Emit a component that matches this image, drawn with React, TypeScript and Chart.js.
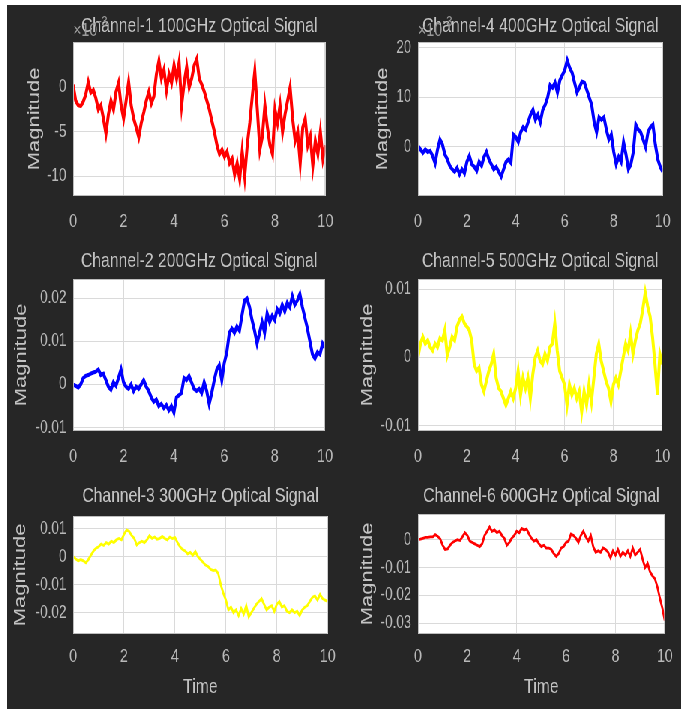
import React, { useEffect, useRef } from "react";
import { Chart, registerables } from "chart.js";

Chart.register(...registerables);

// Time axis: samples every 0.1 s from 0 to 10
const TIME_STEP = 0.1;

// Channel values, in units of 1e-3
const CH1 = [0.3, -1.5, -2.0, -2.1, -1.6, -0.8, 0.6, -0.6, -0.3, -1.2, -2.5, -2.0, -3.5, -5.2, -3.0, -1.5, -2.5, -0.5, 0.5, -2.0, -3.5, -1.5, 0.6, -2.0, -3.5, -4.5, -5.6, -4.0, -2.8, -1.5, -0.5, -1.8, -1.0, 1.5, 3.0, 1.0, 2.0, -0.3, 1.5, 0.5, 2.5, 1.0, 2.8, -2.0, 0.5, 2.3, 0.0, 1.0, 2.5, 3.2, 1.0, 0.3, -0.5, -1.5, -2.5, -3.8, -5.0, -6.5, -7.5, -7.0, -7.8, -7.2, -8.5, -8.0, -9.8, -8.5, -10.3, -7.2, -10.0, -6.5, -4.0, -1.0, 1.8, -2.5, -7.0, -5.5, -2.0, -4.5, -6.5, -7.5, -2.5, -4.0, -2.0, -5.0, -3.0, -1.5, 0.0, -3.5, -6.0, -5.0, -8.5, -4.5, -3.5, -6.5, -5.5, -8.8, -6.0, -7.5, -5.0, -8.0, -6.5];
const CH2 = [0.0, -0.3, -0.7, 0.0, 1.5, 2.0, 2.2, 2.5, 2.8, 3.0, 3.5, 2.2, 2.5, 1.0, -0.5, -1.2, 0.5, -0.3, 1.5, 3.5, 0.5, -0.5, -1.0, 0.0, -1.5, -0.5, -1.0, 0.0, 1.0, -0.5, -1.5, -3.0, -4.0, -3.5, -5.0, -4.5, -5.5, -4.8, -6.0, -5.0, -6.5, -3.0, -2.5, -2.0, 1.5, 1.0, 2.0, 0.5, -1.0, -1.5, -1.0, -2.0, 0.5, -1.5, -4.5, -2.0, 1.0, 3.5, 4.5, 1.0, 5.0, 7.5, 12.0, 13.0, 12.0, 13.5, 12.5, 16.0, 19.5, 20.0, 18.0, 15.0, 12.5, 9.5, 12.0, 14.5, 12.0, 16.5, 14.5, 16.0, 15.0, 17.5, 16.5, 18.5, 17.0, 19.0, 18.0, 20.5, 18.5, 19.5, 21.0, 18.0, 15.5, 13.0, 10.0, 7.0, 6.0, 7.5, 7.0, 9.5, 8.5];
const CH3 = [0.0, -0.8, -1.5, -1.0, -1.5, -2.2, -1.0, 0.5, 2.0, 3.0, 3.5, 4.5, 4.0, 5.0, 4.5, 5.5, 5.0, 6.0, 6.5, 6.0, 8.0, 9.5, 9.0, 7.5, 6.5, 4.2, 5.0, 5.5, 5.0, 6.0, 7.5, 6.5, 7.0, 6.2, 6.5, 7.2, 6.5, 6.0, 7.0, 6.5, 6.8, 5.0, 3.5, 2.5, 2.0, 1.0, 1.5, 0.5, 1.8, 0.0, -1.0, -2.0, -3.0, -3.5, -4.5, -5.0, -4.8, -6.0, -10.0, -13.0, -15.5, -19.0, -18.0, -20.0, -19.0, -21.0, -18.5, -20.5, -17.5, -21.5, -20.0, -18.5, -17.0, -16.0, -15.0, -17.0, -19.0, -18.0, -17.5, -19.5, -17.0, -16.0, -18.0, -17.5, -19.5, -20.0, -19.0, -20.0, -19.5, -21.0, -19.0, -18.0, -17.5, -16.0, -14.5, -14.0, -15.5, -13.5, -15.0, -15.5, -16.0];
const CH4 = [0.2, -0.5, -1.2, -0.5, -1.0, -0.8, -1.8, -3.3, -0.5, 1.5, 0.5, -1.5, -2.5, -3.8, -4.5, -5.0, -4.2, -5.5, -4.5, -5.3, -3.0, -1.8, -3.5, -4.0, -4.8, -3.0, -3.8, -2.0, -1.0, -2.5, -3.5, -4.5, -4.0, -5.0, -6.0, -4.5, -3.0, -2.5, -3.2, 2.5, 2.0, 1.0, 3.0, 4.0, 3.5, 5.0, 6.5, 7.5, 5.5, 6.5, 5.0, 7.5, 8.5, 10.0, 12.5, 12.0, 13.0, 11.0, 13.5, 14.5, 15.5, 17.5, 16.0, 15.0, 13.0, 11.0, 12.0, 13.2, 13.0, 11.5, 10.0, 8.5, 5.0, 3.0, 6.0, 5.5, 6.0, 3.5, 1.5, 2.5, -1.0, -3.5, -2.0, -3.0, 1.0, -1.5, -4.5, -3.5, -1.0, 4.5, 3.5, 3.0, 1.5, 0.0, 3.0, 4.0, 4.5, 0.5, -2.5, -4.0, -5.0];
const CH5 = [0.0, 2.0, 3.0, 2.0, 2.5, 1.5, 1.0, 2.0, 1.5, 2.8, 2.5, 4.0, 0.3, 1.5, 3.0, 2.5, 4.5, 5.5, 6.0, 5.0, 4.5, 4.0, 2.5, -1.0, -2.0, -1.5, -4.0, -5.0, -3.5, -2.0, -1.0, 0.5, -3.0, -4.5, -5.0, -6.0, -7.0, -6.0, -5.0, -6.0, -4.5, -2.0, -5.5, -3.0, -4.5, -3.0, -6.0, -2.5, 0.0, 1.0, -0.5, -1.0, 0.5, -0.5, 1.5, 2.0, 5.0, 1.0, -2.0, -3.0, -4.0, -7.0, -4.0, -5.5, -4.5, -6.0, -5.0, -8.0, -5.0, -7.0, -4.0, -6.5, -3.0, 0.5, 2.0, -0.5, -2.0, -3.5, -4.5, -6.5, -4.0, -3.0, -4.0, -2.0, 0.0, 2.0, 1.0, 3.5, 0.5, 2.5, 4.0, 5.0, 7.0, 9.5, 7.5, 6.0, 3.0, -1.0, -5.5, 0.5, -1.0];
const CH6 = [0.0, 0.2, 0.5, 0.8, 0.8, 1.0, 1.0, 1.8, 1.2, 0.3, -2.0, -3.5, -3.3, -2.0, -1.0, -0.5, 0.0, -0.3, 1.0, 2.5, 1.5, -0.5, -1.0, -1.5, -2.0, -2.5, -1.5, 1.5, 3.0, 4.5, 3.0, 3.5, 2.5, 3.0, 1.5, 0.5, -2.0, -1.0, 0.5, 1.5, 3.0, 2.5, 4.0, 3.5, 3.8, 2.0, 0.5, -0.5, 0.0, -1.5, -2.5, -2.0, -3.0, -3.0, -3.5, -5.0, -6.0, -5.0, -3.0, -2.5, -1.0, -0.5, 2.0, 1.5, 0.5, -1.0, 1.5, 3.0, 1.0, -0.5, 1.5, -2.5, -4.5, -4.0, -4.5, -3.0, -3.5, -4.5, -6.5, -4.0, -5.5, -3.5, -6.0, -4.5, -5.5, -4.0, -6.0, -3.0, -5.5, -4.5, -3.5, -7.0, -10.0, -8.5, -11.5, -13.0, -14.0, -17.0, -21.0, -24.5, -29.0];

// Tick labels / axis ranges
const X_TICK_STEP = 2;
const CH1_TICKS = [-10, -5, 0];
const CH2_TICKS = [-0.01, 0, 0.01, 0.02];
const CH3_TICKS = [-0.02, -0.01, 0, 0.01];
const CH4_TICKS = [0, 10, 20];
const CH5_TICKS = [-0.01, 0, 0.01];
const CH6_TICKS = [-0.03, -0.02, -0.01, 0];

const TITLES = [
  "Channel-1 100GHz Optical Signal",
  "Channel-2 200GHz Optical Signal",
  "Channel-3 300GHz Optical Signal",
  "Channel-4 400GHz Optical Signal",
  "Channel-5 500GHz Optical Signal",
  "Channel-6 600GHz Optical Signal",
];

const FONT = "'Liberation Sans', Arial, Helvetica, sans-serif";
const TEXT_COLOR = "#c3c3c3";
const TICK_COLOR = "#b8b8b8";
const BG = "#262626";

type Panel = {
  title: string;
  values: number[];
  unit: number;
  color: string;
  lw: number;
  yMin: number;
  yMax: number;
  ticks: number[];
  exponent: boolean;
  left: number;
  top: number;
  w: number;
  h: number;
  yAxisW: number;
  xAxisH: number;
  padRight: number;
  titleTop: number;
  titleBottom: number;
  yTitlePad: number;
  xTickPad: number;
  timeLabel: boolean;
};

const PANELS: Panel[] = [
  { title: TITLES[0], values: CH1, unit: 1, color: "#ff0000", lw: 4, yMin: -12.2, yMax: 5.1, ticks: CH1_TICKS, exponent: true,
    left: 0, top: 0, w: 449, h: 236, yAxisW: 88, xAxisH: 45, padRight: 19.7, titleTop: 8.8, titleBottom: 3.0, yTitlePad: 24, xTickPad: 14, timeLabel: false },
  { title: TITLES[1], values: CH2, unit: 1e-3, color: "#0000ff", lw: 4, yMin: -0.0108, yMax: 0.0245, ticks: CH2_TICKS, exponent: false,
    left: 0, top: 236, w: 449, h: 236, yAxisW: 88, xAxisH: 46, padRight: 19.7, titleTop: 7.5, titleBottom: 5.3, yTitlePad: 5.5, xTickPad: 14.5, timeLabel: false },
  { title: TITLES[2], values: CH3, unit: 1e-3, color: "#ffff00", lw: 2.8, yMin: -0.0276, yMax: 0.0145, ticks: CH3_TICKS, exponent: false,
    left: 0, top: 472, w: 449, h: 232, yAxisW: 88, xAxisH: 75, padRight: 19.7, titleTop: 6.8, titleBottom: 7.0, yTitlePad: 5.2, xTickPad: 11, timeLabel: true },
  { title: TITLES[3], values: CH4, unit: 1, color: "#0000ff", lw: 4, yMin: -9.9, yMax: 21.2, ticks: CH4_TICKS, exponent: true,
    left: 449, top: 0, w: 450, h: 236, yAxisW: 99, xAxisH: 45, padRight: 21.7, titleTop: 8.8, titleBottom: 3.0, yTitlePad: 39, xTickPad: 14, timeLabel: false },
  { title: TITLES[4], values: CH5, unit: 1e-3, color: "#ffff00", lw: 4, yMin: -0.0108, yMax: 0.0115, ticks: CH5_TICKS, exponent: false,
    left: 449, top: 236, w: 450, h: 236, yAxisW: 99, xAxisH: 46, padRight: 21.7, titleTop: 7.5, titleBottom: 5.3, yTitlePad: 18.5, xTickPad: 14.5, timeLabel: false },
  { title: TITLES[5], values: CH6, unit: 1e-3, color: "#ff0000", lw: 2.8, yMin: -0.0338, yMax: 0.0092, ticks: CH6_TICKS, exponent: false,
    left: 449, top: 472, w: 450, h: 232, yAxisW: 99, xAxisH: 75, padRight: 21.7, titleTop: 6.8, titleBottom: 5.0, yTitlePad: 18.5, xTickPad: 11, timeLabel: true },
];

function fmt(v: number): string {
  return String(Math.round(v * 1e6) / 1e6);
}

function PanelChart({ p }: { p: Panel }) {
  const ref = useRef<HTMLCanvasElement>(null);
  useEffect(() => {
    const canvas = ref.current;
    if (!canvas) return;
    const points = p.values.map((v, i) => ({ x: Math.round(i * TIME_STEP * 10) / 10, y: v * p.unit }));
    const decor = {
      id: "decor",
      beforeDraw(chart: any) {
        const { ctx, chartArea: a } = chart;
        ctx.save();
        ctx.fillStyle = "#ffffff";
        ctx.fillRect(a.left, a.top, a.right - a.left, a.bottom - a.top);
        ctx.restore();
      },
      afterDatasetsDraw(chart: any) {
        const { ctx, chartArea: a } = chart;
        ctx.save();
        ctx.strokeStyle = "#bdbdbd";
        ctx.lineWidth = 1;
        ctx.strokeRect(a.left + 0.5, a.top + 0.5, a.right - a.left - 1, a.bottom - a.top - 1);
        ctx.restore();
      },
      beforeDatasetsDraw(chart: any) {
        if (!p.exponent) return;
        const { ctx, chartArea: a } = chart;
        ctx.save();
        ctx.fillStyle = "#9a9a9a";
        ctx.textBaseline = "alphabetic";
        ctx.textAlign = "left";
        ctx.font = `19px ${FONT}`;
        ctx.fillText("\u00d710", a.left, a.top - 6);
        const w = ctx.measureText("\u00d710").width;
        ctx.font = `14px ${FONT}`;
        ctx.fillText("-3", a.left + w + 1, a.top - 16);
        ctx.restore();
      },
    };
    const chart = new Chart(canvas, {
      type: "line",
      data: {
        datasets: [
          {
            data: points,
            borderColor: p.color,
            backgroundColor: p.color,
            borderWidth: p.lw,
            pointRadius: 0,
            tension: 0,
            fill: false,
            borderJoinStyle: "miter",
          },
        ],
      },
      options: {
        responsive: false,
        animation: false,
        events: [],
        layout: { padding: { left: 0, top: 0, right: p.padRight, bottom: 0 } },
        plugins: {
          legend: { display: false },
          tooltip: { enabled: false },
          title: {
            display: true,
            text: p.title,
            color: TEXT_COLOR,
            fullSize: false,
            font: { family: FONT, size: 21, weight: "normal", lineHeight: 1.2 },
            padding: { top: p.titleTop, bottom: p.titleBottom },
          },
        },
        scales: {
          x: {
            type: "linear",
            min: 0,
            max: 10,
            ticks: {
              stepSize: X_TICK_STEP,
              color: TICK_COLOR,
              padding: p.xTickPad,
              maxRotation: 0,
              font: { family: FONT, size: 19 },
              callback: (v: any) => fmt(Number(v)),
            },
            grid: { color: "#dadada", lineWidth: 1, drawTicks: false },
            border: { display: false },
            title: {
              display: p.timeLabel,
              text: "Time",
              color: TEXT_COLOR,
              font: { family: FONT, size: 21 },
              padding: { top: 0, bottom: 9 },
            },
            afterFit: (s: any) => {
              s.height = p.xAxisH;
            },
          },
          y: {
            type: "linear",
            min: p.yMin,
            max: p.yMax,
            afterBuildTicks: (s: any) => {
              s.ticks = p.ticks.map((v) => ({ value: v }));
            },
            ticks: {
              color: TICK_COLOR,
              padding: 9,
              font: { family: FONT, size: 18 },
              callback: (v: any) => fmt(Number(v)),
            },
            grid: { color: "#dadada", lineWidth: 1, drawTicks: false },
            border: { display: false },
            title: {
              display: true,
              text: "Magnitude",
              color: TEXT_COLOR,
              font: { family: FONT, size: 22 },
              padding: { top: p.yTitlePad, bottom: 0 },
            },
            afterFit: (s: any) => {
              s.width = p.yAxisW;
            },
          },
        },
      },
      plugins: [decor],
    } as any);
    return () => chart.destroy();
  }, [p]);
  return (
    <canvas
      ref={ref}
      width={p.w}
      height={p.h}
      style={{ position: "absolute", left: p.left, top: p.top, width: p.w, height: p.h, display: "block" }}
    />
  );
}

export default function App() {
  return (
    <div
      style={{
        position: "absolute",
        left: 7,
        top: 5,
        width: 899,
        height: 704,
        background: BG,
        transform: "scaleX(0.75)",
        transformOrigin: "0 0",
        overflow: "hidden",
      }}
    >
      {PANELS.map((p, i) => (
        <PanelChart key={i} p={p} />
      ))}
    </div>
  );
}
